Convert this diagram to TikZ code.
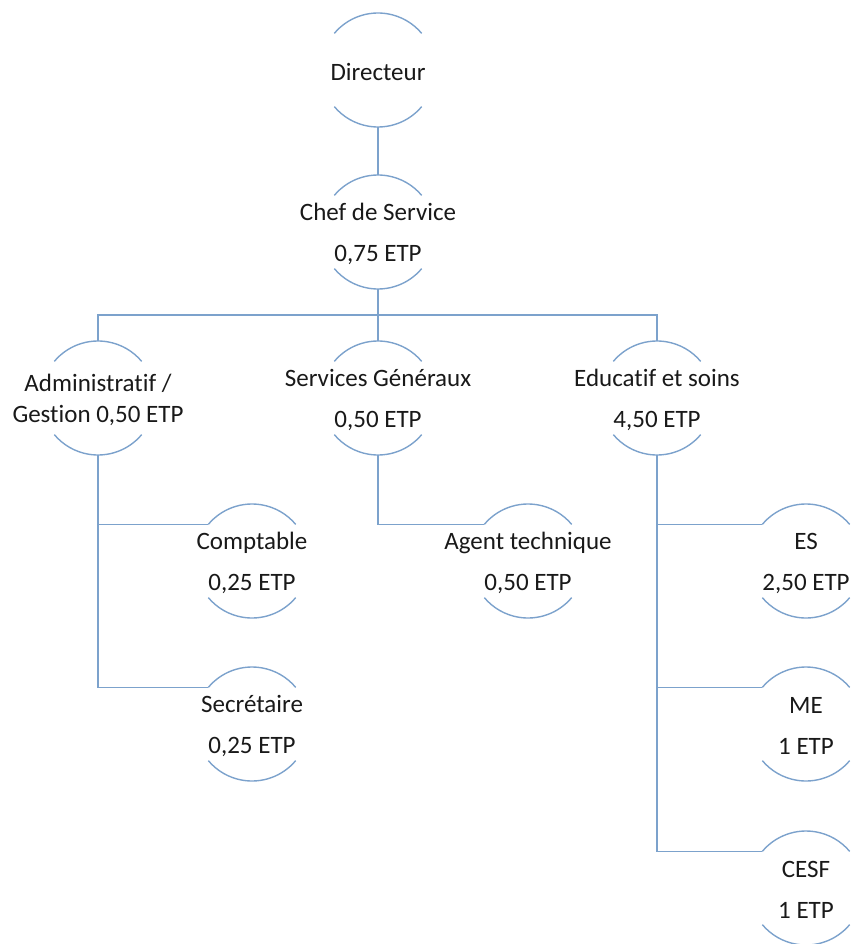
\documentclass[tikz,border=0pt]{standalone}
\usepackage{fontspec}
\setmainfont[Ligatures=NoCommon]{Carlito}
\definecolor{ln}{RGB}{124,162,204}
\definecolor{tx}{RGB}{25,25,25}
\newcommand{\arcs}[1]{%
  \draw[lnst] ([shift={(#1.center)}]40:57) arc[start angle=40,end angle=140,radius=57];
  \draw[lnst] ([shift={(#1.center)}]220:57) arc[start angle=220,end angle=320,radius=57];}
\begin{document}
\begin{tikzpicture}[x=1pt,y=-1pt,
  lnst/.style={draw=ln,line width=1.4pt},
  nd/.style={circle,minimum size=114pt,inner sep=0pt,draw=none},
  txt/.style={text=tx,align=center,font=\fontsize{25}{30.5}\selectfont,inner sep=0pt,yshift=-2pt}]
\useasboundingbox (0,0) rectangle (854,944);
\clip (0,0) rectangle (854,944);
\node[nd] (dir) at (378,70) {};
\node[nd] (chef) at (378,232) {};
\node[nd] (adm) at (98,398) {};
\node[nd] (srv) at (378,398) {};
\node[nd] (edu) at (657,398) {};
\node[nd] (comp) at (252,561) {};
\node[nd] (agt) at (528,561) {};
\node[nd] (es) at (806,561) {};
\node[nd] (sec) at (252,724) {};
\node[nd] (me) at (806,724) {};
\node[nd] (cesf) at (806,888) {};
\foreach \n in {dir,chef,adm,srv,edu,comp,agt,es,sec,me,cesf} {\arcs{\n}}
\node[txt] (tdir) at (dir) {Directeur};
\node[txt] (tchef) at (chef) {Chef de Service\\[10.5pt]0,75 ETP};
\node[txt] (tadm) at (adm) {Administratif /\\Gestion 0,50 ETP};
\node[txt] (tsrv) at (srv) {Services Généraux\\[10.5pt]0,50 ETP};
\node[txt] (tedu) at (edu) {Educatif et soins\\[10.5pt]4,50 ETP};
\node[txt] (tcomp) at (comp) {Comptable\\[10.5pt]0,25 ETP};
\node[txt] (tagt) at (agt) {Agent technique\\[10.5pt]0,50 ETP};
\node[txt] (tes) at (es) {ES\\[10.5pt]2,50 ETP};
\node[txt] (tsec) at (sec) {Secrétaire\\[10.5pt]0,25 ETP};
\node[txt] (tme) at (me) {ME\\[10.5pt]1 ETP};
\node[txt] (tcesf) at (cesf) {CESF\\[10.5pt]1 ETP};
\coordinate (bus) at (378,315);
\draw[lnst] (dir.south) -- (chef.north);
\draw[lnst] (chef.south) -- (bus) -- (srv.north);
\draw[lnst] (adm.north) |- (bus) -| (edu.north);
\draw[lnst] (adm.south) |- (comp.140);
\draw[lnst] (adm.south) |- (sec.140);
\draw[lnst] (srv.south) |- (agt.140);
\draw[lnst] (edu.south) |- (es.140);
\draw[lnst] (edu.south) |- (me.140);
\draw[lnst] (edu.south) |- (cesf.140);
\end{tikzpicture}
\end{document}
